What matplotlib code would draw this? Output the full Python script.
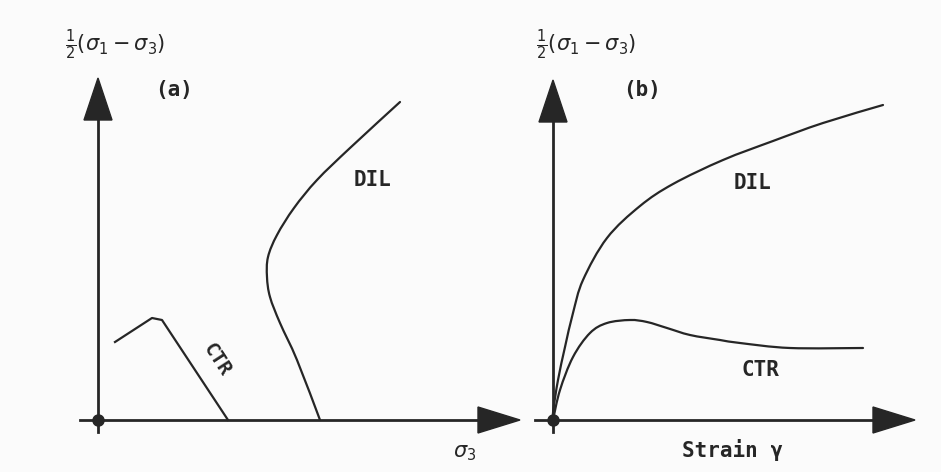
import numpy as np
import matplotlib
matplotlib.use("Agg")
import matplotlib.pyplot as plt
from matplotlib.path import Path
from matplotlib.patches import PathPatch

# sketch units: 1 unit = 10 px, origin of each panel at its axes corner

# (a) stress path: deviator stress vs sigma_3
ctr_a_x = [1.7, 5.4, 6.4, 13.0]
ctr_a_y = [7.8, 10.2, 10.0, 0.0]

dil_a_x = [30.2, 25.2, 21.9, 19.6, 17.9, 17.0, 16.9, 17.2, 18.2, 19.9, 22.2]
dil_a_y = [31.8, 27.2, 24.0, 21.2, 18.5, 16.3, 14.3, 12.3, 9.7, 6.0, 0.0]

# (b) stress-strain: deviator stress vs shear strain
dil_b_x = [0.0, 0.03, 0.5, 1.2, 2.0, 3.0, 5.4, 8.7, 12.0, 17.0, 22.0, 27.0, 33.0]
dil_b_y = [0.0, 1.0, 4.0, 7.3, 10.7, 14.0, 18.2, 21.4, 23.6, 26.0, 27.9, 29.7, 31.5]

ctr_b_x = [0.0, 0.7, 2.0, 3.7, 5.4, 7.7, 9.4, 11.4, 13.7, 16.7, 18.7, 23.7, 31.0]
ctr_b_y = [0.0, 3.0, 6.3, 8.7, 9.7, 10.0, 9.8, 9.2, 8.5, 8.0, 7.7, 7.2, 7.2]

W, H = 941, 472
INK = "#262626"
plt.rcParams["mathtext.fontset"] = "dejavusans"
mono = "DejaVu Sans Mono"

fig = plt.figure(figsize=(W / 100, H / 100), dpi=100, facecolor="#fbfbfb")


def panel(left, right, ox, oy):
    "axes spanning a slice of the figure, data in 10px units from the origin"
    ax = fig.add_axes([left / W, 0, (right - left) / W, 1])
    ax.set_xlim((left - ox) / 10, (right - ox) / 10)
    ax.set_ylim(-(H - oy) / 10, oy / 10)
    ax.axis("off")
    ax.patch.set_alpha(0)
    return ax


def draw_axes(ax, xtip, ytip):
    "hand-drawn style axes with filled arrow heads and an origin dot"
    ax.plot([-1.8, xtip - 4], [0, 0], color=INK, lw=2.0, clip_on=False)
    ax.plot([0, 0], [-1.2, ytip - 4], color=INK, lw=2.0, clip_on=False)
    ax.arrow(xtip - 4.2, 0, 4.2, 0, width=0.01, head_width=2.6, head_length=4.2,
             length_includes_head=True, color=INK, clip_on=False)
    ax.arrow(0, ytip - 4.2, 0, 4.2, width=0.01, head_width=2.8, head_length=4.2,
             length_includes_head=True, color=INK, clip_on=False)
    ax.plot(0, 0, "o", ms=8, color=INK, clip_on=False)


def smooth_curve(ax, xs, ys):
    "pen-like curve through the points (Catmull-Rom as cubic Beziers)"
    p = np.column_stack([xs, ys]).astype(float)
    ext = np.vstack([p[0], p, p[-1]])
    verts = [p[0]]
    codes = [Path.MOVETO]
    for i in range(len(p) - 1):
        c1 = ext[i + 1] + (ext[i + 2] - ext[i]) / 6
        c2 = ext[i + 2] - (ext[i + 3] - ext[i + 1]) / 6
        verts += [c1, c2, ext[i + 2]]
        codes += [Path.CURVE4] * 3
    ax.add_patch(PathPatch(Path(verts, codes), fill=False, ec=INK, lw=1.6,
                           capstyle="round", joinstyle="round"))


ylab = r"$\frac{1}{2}(\sigma_1 - \sigma_3)$"
lbl = dict(family=mono, fontweight="bold", ha="center", va="center", color=INK)

# panel (a)
ax = panel(0, 545, 98, 420)
draw_axes(ax, 42.2, 34.2)
ax.plot(ctr_a_x, ctr_a_y, color=INK, lw=1.6, solid_joinstyle="round")
smooth_curve(ax, dil_a_x, dil_a_y)
ax.text(1.7, 37.5, ylab, fontsize=15, ha="center", va="center", color=INK)
ax.text(7.6, 33.0, "(a)", fontsize=15, **lbl)
ax.text(36.7, -3.3, r"$\sigma_3$", fontsize=15, ha="center", va="center", color=INK)
ax.text(11.9, 6.0, "CTR", fontsize=14, rotation=-57, **lbl)
ax.text(27.5, 24.0, "DIL", fontsize=15, **lbl)

# panel (b)
ax = panel(545, 941, 553, 420)
draw_axes(ax, 36.2, 34.0)
smooth_curve(ax, dil_b_x, dil_b_y)
smooth_curve(ax, ctr_b_x, ctr_b_y)
ax.text(3.3, 37.5, ylab, fontsize=15, ha="center", va="center", color=INK)
ax.text(8.9, 33.0, "(b)", fontsize=15, **lbl)
ax.text(17.9, -3.0, "Strain γ", fontsize=15, **lbl)
ax.text(20.0, 23.7, "DIL", fontsize=15, **lbl)
ax.text(20.7, 5.0, "CTR", fontsize=15, **lbl)

fig.savefig("out.png", dpi=100, facecolor=fig.get_facecolor())
